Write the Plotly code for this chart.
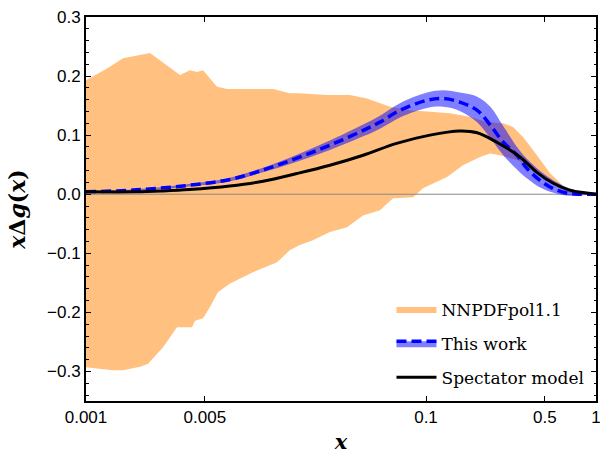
import plotly.graph_objects as go

# NNPDFpol1.1 band (upper / lower edges)
nnpdf_up_x = [0.001, 0.00133, 0.00165, 0.00238, 0.00357, 0.00409, 0.0045, 0.00488, 0.0059, 0.00675,
              0.0092, 0.0126, 0.0158, 0.0181, 0.0262, 0.0357, 0.045, 0.0614, 0.0805, 0.110, 0.138,
              0.158, 0.181, 0.229, 0.284, 0.325, 0.372, 0.426, 0.488, 0.536, 0.590, 0.675, 0.839, 1.0]
nnpdf_up_y = [0.193, 0.213, 0.230, 0.239, 0.202, 0.210, 0.207, 0.210, 0.182, 0.178,
              0.178, 0.178, 0.171, 0.171, 0.168, 0.168, 0.162, 0.148, 0.142, 0.139, 0.137,
              0.134, 0.131, 0.122, 0.120, 0.114, 0.097, 0.075, 0.053, 0.036, 0.024, 0.007, 0.002, 0.0]
nnpdf_lo_x = [0.001, 0.00144, 0.00165, 0.00208, 0.00232, 0.00284, 0.00343, 0.00420, 0.00438, 0.00488,
              0.00536, 0.00597, 0.00703, 0.0096, 0.0133, 0.0158, 0.0181, 0.0216, 0.0272, 0.0343,
              0.0426, 0.0536, 0.0640, 0.0839, 0.0960, 0.133, 0.165, 0.208, 0.238, 0.272, 0.343,
              0.409, 0.469, 0.536, 0.614, 0.703, 0.839, 1.0]
nnpdf_lo_y = [-0.293, -0.298, -0.298, -0.292, -0.287, -0.259, -0.225, -0.225, -0.214, -0.210,
              -0.191, -0.166, -0.151, -0.132, -0.115, -0.095, -0.086, -0.078, -0.064, -0.056,
              -0.036, -0.027, -0.007, -0.005, 0.010, 0.029, 0.049, 0.063, 0.069, 0.066, 0.058,
              0.046, 0.036, 0.024, 0.010, 0.002, 0.001, 0.0]

# This work: central curve and band
work_x = [0.001, 0.00189, 0.00372, 0.00703, 0.0110, 0.0174, 0.0272, 0.0427, 0.0536, 0.0703,
          0.1014, 0.126, 0.158, 0.200, 0.239, 0.285, 0.343, 0.392, 0.466, 0.556, 0.67, 0.80, 1.0]
work_c = [0.004, 0.007, 0.014, 0.025, 0.041, 0.061, 0.083, 0.108, 0.122, 0.142,
          0.159, 0.162, 0.156, 0.142, 0.117, 0.088, 0.066, 0.044, 0.024, 0.010, 0.002, 0.000, 0.0]
work_up = [0.0045, 0.008, 0.016, 0.028, 0.045, 0.067, 0.091, 0.118, 0.133, 0.154,
           0.172, 0.176, 0.172, 0.165, 0.148, 0.115, 0.080, 0.060, 0.040, 0.024, 0.012, 0.005, 0.0]
work_lo = [0.0035, 0.006, 0.012, 0.022, 0.037, 0.055, 0.075, 0.098, 0.111, 0.130,
           0.146, 0.148, 0.141, 0.122, 0.095, 0.066, 0.042, 0.027, 0.012, 0.003, -0.002, -0.002, 0.0]

# Spectator model
spec_x = [0.001, 0.00196, 0.00284, 0.00405, 0.007, 0.011, 0.0174, 0.0272, 0.0427, 0.0672,
          0.1055, 0.158, 0.200, 0.261, 0.357, 0.449, 0.557, 0.70, 0.88, 1.0]
spec_y = [0.004, 0.004, 0.0056, 0.008, 0.014, 0.022, 0.035, 0.049, 0.066, 0.086,
          0.100, 0.107, 0.104, 0.088, 0.063, 0.037, 0.019, 0.007, 0.002, 0.0]

xtick_vals = [0.001, 0.005, 0.1, 0.5, 1]
xtick_text = ["0.001", "0.005", "0.1", "0.5", "1"]

ORANGE = "#FFC080"
BAND_BLUE = "rgba(0,0,255,0.5)"

fig = go.Figure()

fig.add_trace(go.Scatter(
    x=nnpdf_up_x + nnpdf_lo_x[::-1], y=nnpdf_up_y + nnpdf_lo_y[::-1],
    fill="toself", fillcolor=ORANGE, mode="lines", line=dict(width=0, color=ORANGE),
    name="NNPDFpol1.1", legendgroup="a", hoverinfo="skip"))

fig.add_trace(go.Scatter(
    x=[0.001, 1.0], y=[0, 0], mode="lines", line=dict(color="#888888", width=1),
    showlegend=False, hoverinfo="skip"))

fig.add_trace(go.Scatter(
    x=work_x, y=work_up, mode="lines", line=dict(width=0, shape="spline"),
    showlegend=False, hoverinfo="skip"))
fig.add_trace(go.Scatter(
    x=work_x, y=work_c, mode="lines", fill="tonexty", fillcolor=BAND_BLUE,
    line=dict(color="#0000FF", width=3.5, dash="10px,5px", shape="spline"),
    name="This work", legendgroup="b"))
fig.add_trace(go.Scatter(
    x=work_x, y=work_lo, mode="lines", fill="tonexty", fillcolor=BAND_BLUE,
    line=dict(width=0, shape="spline"), showlegend=False, hoverinfo="skip"))

fig.add_trace(go.Scatter(
    x=spec_x, y=spec_y, mode="lines", line=dict(color="black", width=3, shape="spline"),
    name="Spectator model", legendgroup="c"))

tickfont = dict(family="Liberation Sans, Arial, sans-serif", size=17, color="black")

fig.update_layout(
    width=600, height=458,
    margin=dict(l=86, r=4, t=17, b=57),
    plot_bgcolor="white", paper_bgcolor="white",
    legend=dict(x=0.599, y=0.285, xanchor="left", yanchor="top",
                bgcolor="rgba(0,0,0,0)", tracegroupgap=9, itemwidth=40,
                font=dict(family="DejaVu Serif, serif", size=17, color="black")),
    xaxis=dict(type="log", range=[-3, 0], tickmode="array", tickvals=xtick_vals,
               ticktext=xtick_text, ticks="inside", ticklen=5, tickwidth=1, tickcolor="black",
               showline=True, linecolor="black", linewidth=2, mirror="ticks",
               showgrid=False, zeroline=False, tickfont=tickfont, automargin=False,
               ticklabeloverflow="allow",
               title=dict(text="<b><i>x</i></b>", standoff=8,
                          font=dict(family="DejaVu Serif, serif", size=21, color="black"))),
    yaxis=dict(range=[-0.35, 0.3], tickmode="linear", tick0=0, dtick=0.1, tickformat=".1f",
               ticks="inside", ticklen=5, tickwidth=1, tickcolor="black",
               minor=dict(tickmode="linear", tick0=0, dtick=0.02, ticks="inside",
                          ticklen=2.5, tickwidth=1, tickcolor="black", showgrid=False),
               showline=True, linecolor="black", linewidth=2, mirror="ticks",
               showgrid=False, zeroline=False, tickfont=tickfont, automargin=False,
               title=dict(text="<b><i>x</i>Δ<i>g</i>(<i>x</i>)</b>", standoff=15,
                          font=dict(family="DejaVu Serif, serif", size=22, color="black"))),
)

fig.write_html("out.html", config={"displayModeBar": False},
               post_script="document.body.style.margin='0';")
